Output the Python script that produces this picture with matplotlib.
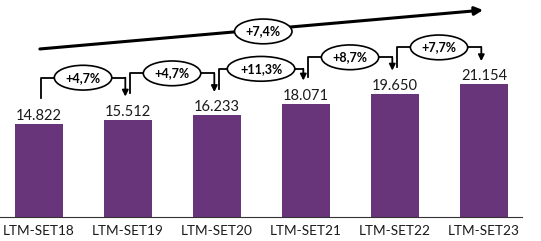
import matplotlib.pyplot as plt

categories = ["LTM-SET18", "LTM-SET19", "LTM-SET20", "LTM-SET21", "LTM-SET22", "LTM-SET23"]
values = [14822, 15512, 16233, 18071, 19650, 21154]
value_labels = ["14.822", "15.512", "16.233", "18.071", "19.650", "21.154"]
growth_labels = ["+4,7%", "+4,7%", "+11,3%", "+8,7%", "+7,7%"]
cagr_label = "+7,4%"

plt.rcParams['font.family'] = ['Lato', 'DejaVu Sans']

fig = plt.figure(figsize=(5.41, 2.41), dpi=100)
ax = fig.add_axes([0, 24 / 241, 1, 217 / 241])

x = list(range(len(categories)))
ax.bar(x, values, width=0.55, color='#68347a')

px = 159.5  # data units per pixel (vertical)
for i, v in enumerate(values):
    ax.text(i, v + 8 * px, value_labels[i], ha='center', va='center', fontsize=10.5, color='#1a1a1a')

# year-over-year brackets
for i, g in enumerate(growth_labels):
    x0 = i + 0.02
    x1 = i + 1 - 0.03
    top = values[i] + 7400
    start = values[i] + 4200
    tip = values[i + 1] + 3700
    ax.plot([x0, x0, x1], [start, top, top], color='black', lw=1.3)
    ax.annotate("", xy=(x1, tip), xytext=(x1, top),
                arrowprops=dict(arrowstyle='-|>', color='black', lw=1.3, mutation_scale=9,
                                shrinkA=0, shrinkB=0))
    ax.text((x0 + x1) / 2, top, g, ha='center', va='center', fontsize=9, fontweight='bold',
            bbox=dict(boxstyle='ellipse,pad=0.22', fc='white', ec='black', lw=1.2))

# overall trend arrow
ax.annotate("", xy=(4.99, 33000), xytext=(0.01, 26800),
            arrowprops=dict(arrowstyle='-|>', color='black', lw=2.2, mutation_scale=12,
                            shrinkA=0, shrinkB=0))
ax.text(2.52, 29600, cagr_label, ha='center', va='center', fontsize=9, fontweight='bold',
        bbox=dict(boxstyle='ellipse,pad=0.22', fc='white', ec='black', lw=1.2))

ax.set_xlim(-0.438, -0.438 + 541 / 89)
ax.set_ylim(0, 217 * px)
ax.set_xticks(x)
ax.set_xticklabels(categories, fontsize=9.8, color='#1a1a1a')
ax.tick_params(axis='x', length=0, pad=6)
ax.set_yticks([])
for s in ['top', 'right', 'left']:
    ax.spines[s].set_visible(False)
ax.spines['bottom'].set_bounds(-0.438, 5.43)
ax.spines['bottom'].set_color('#333333')

fig.savefig("out.png", dpi=100)
